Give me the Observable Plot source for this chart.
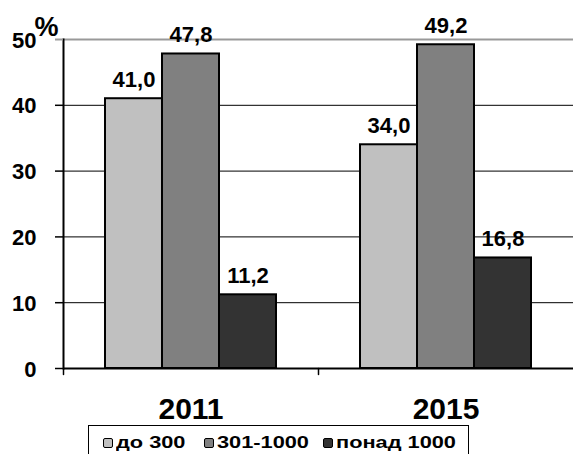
<!DOCTYPE html>
<html>
<head>
<meta charset="utf-8">
<script src="https://cdn.jsdelivr.net/npm/d3@7"></script>
<script src="https://cdn.jsdelivr.net/npm/@observablehq/plot@0.6"></script>
<style>
  html, body { margin: 0; padding: 0; background: #fff; overflow: hidden; }
  body { width: 573px; height: 454px; font-family: "Liberation Sans", Arial, sans-serif; }
  #chart svg { display: block; }
  #legend { position: relative; margin-left: 88px; width: 381px; height: 34px; border: 1px solid #000; box-sizing: border-box; }
  #legend .sw { position: absolute; top: 12px; width: 10px; height: 10px; box-sizing: border-box; border: 1.5px solid #000; border-radius: 2px; }
  #legend .lb { position: absolute; top: 8px; font-size: 17px; line-height: 17px; font-weight: bold; color: #000; display: inline-block; white-space: nowrap; transform: scaleX(1.28); transform-origin: left center; }
</style>
</head>
<body>
<div id="chart"></div>
<div id="legend"></div>
<script>
const years = ["2011", "2015"];
const series = ["до 300", "301-1000", "понад 1000"];
const values2011 = [41.0, 47.8, 11.2];
const values2015 = [34.0, 49.2, 16.8];
const colors = ["#c0c0c0", "#808080", "#333333"];
const yTicks = [0, 10, 20, 30, 40, 50];

const valuesByYear = [values2011, values2015];
const data = years.flatMap((yr, j) => series.map((s, i) => ({year: yr, series: s, value: valuesByYear[j][i]})));
const fmt = v => d3.format(".1f")(v).replace(".", ",");

const tickShape = {
  draw(context, l) { context.moveTo(0, 0); context.lineTo(0, -l); }
};

const svg = Plot.plot({
  width: 573,
  height: 425,
  marginLeft: 63,
  marginRight: 0,
  marginTop: 39,
  marginBottom: 57,
  style: {fontFamily: "'Liberation Sans', Arial, sans-serif", fontWeight: "bold", fontSize: "21px", color: "#000", background: "#fff"},
  fx: {domain: years, padding: 0, axis: null, label: null},
  x: {domain: series, paddingInner: 0, paddingOuter: 0.73, axis: null, label: null},
  y: {domain: [0, 50], axis: null, label: null},
  color: {domain: series, range: colors},
  marks: [
    Plot.ruleY(yTicks.filter(d => d > 0 && d < 50), {stroke: "#000", strokeWidth: 1}),
    Plot.ruleY([50], {stroke: "#999", strokeWidth: 2}),
    Plot.barY(data, {fx: "year", x: "series", y: "value", fill: "series", stroke: "#000", strokeWidth: 2}),
    Plot.ruleY([0], {stroke: "#000", strokeWidth: 2}),
    Plot.frame({anchor: "left", facetAnchor: "left", stroke: "#000", strokeWidth: 2}),
    Plot.axisY({ticks: yTicks.filter(d => d < 50), tickSize: 8, tickFormat: () => "", label: null, stroke: "#000", strokeWidth: 1.5}),
    Plot.axisY({ticks: [50], tickSize: 8, tickFormat: () => "", label: null, stroke: "#999", strokeWidth: 2}),
    Plot.text(yTicks, {y: d => d, text: d => String(d), frameAnchor: "left", textAnchor: "end", dx: -27, dy: 1, facetAnchor: "left", fontSize: 22, fontWeight: "bold", fill: "#000", ariaLabel: "ytick-label"}),
    Plot.vector([0], {frameAnchor: "bottom-left", length: 6, rotate: 180, anchor: "start", shape: tickShape, stroke: "#000", strokeWidth: 1.5}),
    Plot.text(data, {fx: "year", x: "series", y: "value", text: d => fmt(d.value), dy: -12, lineAnchor: "bottom", fontSize: 22, fontWeight: "bold", fill: "#000", ariaLabel: "value-label"}),
    Plot.text(years, {fx: d => d, text: d => d, frameAnchor: "bottom", lineAnchor: "bottom", dy: 50, fontSize: 30, fontWeight: "bold", fill: "#000", ariaLabel: "year-label"}),
    Plot.text([{year: "2011"}], {fx: "year", text: () => "%", frameAnchor: "top-left", textAnchor: "start", lineAnchor: "bottom", dx: -29, dy: -4, fontSize: 27, fontWeight: "bold", fill: "#000", ariaLabel: "pct-label"})
  ]
});

function stretch(root, label, s) {
  root.querySelectorAll(`g[aria-label="${label}"] text`).forEach(t => {
    const x = +(t.getAttribute("x") || 0), y = +(t.getAttribute("y") || 0);
    t.removeAttribute("x"); t.removeAttribute("y");
    const tr = t.getAttribute("transform") || "";
    t.setAttribute("transform", `${tr} translate(${x},${y}) scale(${s},1)`);
  });
}
stretch(svg, "value-label", 1.17);
stretch(svg, "year-label", 1.08);
stretch(svg, "ytick-label", 1.15);

document.getElementById("chart").appendChild(svg);

// legend
const legend = document.getElementById("legend");
const swatchLefts = [14, 115, 234];
series.forEach((s, i) => {
  const sw = document.createElement("span");
  sw.className = "sw";
  sw.style.left = swatchLefts[i] + "px";
  sw.style.background = colors[i];
  legend.appendChild(sw);
  const lb = document.createElement("span");
  lb.className = "lb";
  lb.style.left = (swatchLefts[i] + 13) + "px";
  lb.textContent = s;
  legend.appendChild(lb);
});
</script>
</body>
</html>
